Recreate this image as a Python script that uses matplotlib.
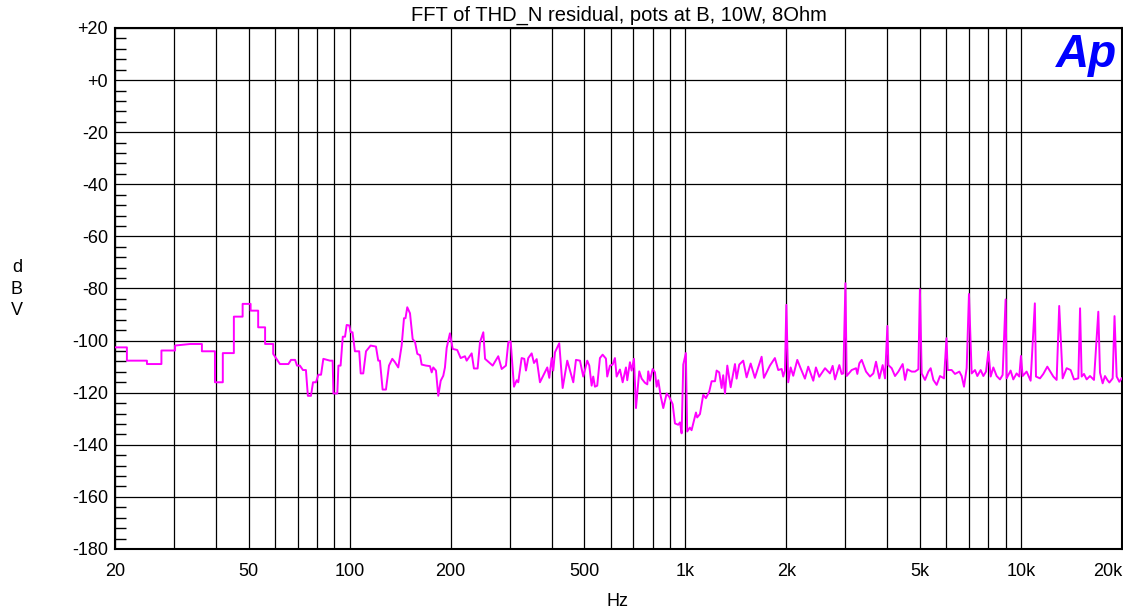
#!/usr/bin/env python3
"""FFT del residuo THD+N (Audio Precision), trazado en escala log."""

import matplotlib
matplotlib.use("Agg")
import matplotlib.pyplot as plt
from matplotlib.ticker import FixedLocator, FixedFormatter, LogLocator, MultipleLocator, NullFormatter

TITLE = "FFT of THD_N residual, pots at B, 10W, 8Ohm"

# frecuencia (Hz) y nivel (dBV)
freq_hz = [
    20, 21.7, 21.7, 24.9, 24.9, 27.5, 27.5, 30.2, 30.2, 33.5, 36.3, 36.3, 39.7, 39.7,
    41.9, 41.9, 45.2, 45.2, 48.0, 48.0, 50.7, 50.7, 53.4, 53.4, 56.0, 56.0, 59.2, 59.2,
    62.0, 65.7, 66.9, 68.8, 69.7, 71.1, 72.6, 74.1, 75.1, 76.7, 77.8, 79.4, 80.7, 82.2,
    83.5, 87.4, 89.0, 89.5, 91.9, 92.6, 94.0, 95.4, 96.9, 98.0, 99.8, 100.7, 102.0,
    103.7, 106.8, 107.9, 109.8, 111.9, 115.5, 119.8, 121.7, 123.1, 125.4, 128.3, 131.0,
    134.0, 136.5, 139.6, 142.9, 145.2, 146.7, 148.5, 151.3, 154.1, 156.6, 159.1, 162.1,
    163.9, 168.9, 173.5, 175.6, 177.5, 180.8, 183.7, 186.8, 190.1, 192.3, 194.6, 199.0,
    202.8, 209.2, 214.2, 220.6, 223.2, 231.0, 234.6, 240.6, 244.6, 250.2, 253.2, 266.8,
    277.2, 283.8, 292.2, 297.0, 301.8, 308.8, 314.6, 318.0, 325.4, 331.4, 335.2, 340.6,
    348.6, 354.2, 360.8, 369.0, 388.0, 393.4, 400.0, 404.2, 409.0, 421.2, 431.2, 445.0,
    463.8, 472.4, 485.6, 496.6, 510.4, 517.6, 526.0, 531.8, 538.0, 546.6, 556.8, 567.2,
    580.2, 585.4, 596.4, 607.6, 617.2, 624.4, 638.8, 650.8, 665.6, 671.6, 684.0, 692.0,
    703.2, 713.0, 729.2, 741.4, 758.4, 770.6, 775.6, 784.8, 799.4, 812.2, 821.6, 830.8,
    844.6, 859.8, 880.0, 896.0, 917.0, 931.6, 952.8, 964.2, 975.2, 986.2, 1004, 1013,
    1032, 1044, 1076, 1085, 1106, 1131, 1152, 1179, 1198, 1226, 1240, 1262, 1283, 1297,
    1313, 1334, 1365, 1406, 1422, 1448, 1488, 1523, 1566, 1612, 1688, 1715, 1787, 1849,
    1892, 1937, 1958, 1981, 2000, 2026, 2060, 2097, 2156, 2196, 2272, 2324, 2406, 2450,
    2506, 2608, 2698, 2748, 2793, 2877, 2923, 2957, 3000, 3025, 3131, 3226, 3255, 3300,
    3354, 3455, 3551, 3633, 3700, 3786, 3873, 3936, 4000, 4027, 4120, 4215, 4313, 4443,
    4515, 4587, 4726, 4835, 4947, 5000, 5061, 5178, 5298, 5383, 5483, 5609, 5739, 5899,
    6000, 6049, 6218, 6361, 6553, 6658, 6766, 6891, 7000, 7131, 7296, 7414, 7585, 7726,
    7868, 8000, 8124, 8274, 8465, 8661, 8818, 9000, 9064, 9316, 9488, 9707, 9886, 10000,
    10115, 10396, 10686, 11000, 11086, 11395, 11658, 11983, 12486, 12774, 13000, 13312,
    13682, 14063, 14388, 14822, 15000, 15165, 15410, 15694, 16057, 16504, 17000, 17197,
    17515, 17797, 18085, 18335, 18759, 19000, 19281, 19636, 19953,
]
level_dbv = [
    -102.6, -102.6, -107.7, -107.7, -109.0, -109.0, -103.8, -103.8, -101.9, -101.3,
    -101.3, -104.1, -104.1, -116.0, -116.0, -104.8, -104.8, -90.8, -90.8, -85.9, -85.9,
    -88.5, -88.5, -94.9, -94.9, -101.3, -101.3, -105.1, -109.0, -109.0, -107.4, -107.4,
    -109.6, -109.6, -111.3, -111.3, -121.2, -121.2, -116.0, -116.0, -113.1, -113.1,
    -107.0, -107.7, -107.7, -120.3, -120.3, -109.6, -109.6, -98.5, -98.5, -94.0, -94.2,
    -96.8, -96.8, -104.1, -104.1, -112.6, -112.6, -104.1, -101.9, -102.3, -107.7, -107.7,
    -118.8, -118.8, -109.6, -107.0, -108.3, -110.3, -101.9, -91.4, -91.4, -87.2, -89.5,
    -99.4, -100.5, -105.1, -105.6, -109.2, -109.6, -109.8, -112.2, -110.3, -111.5, -121.2,
    -115.4, -113.5, -110.3, -102.8, -97.2, -103.2, -103.6, -106.7, -106.0, -107.7, -104.9,
    -110.7, -110.7, -100.6, -96.8, -107.0, -109.6, -106.0, -110.9, -109.6, -100.6, -100.3,
    -117.7, -115.2, -116.0, -106.7, -107.0, -111.5, -106.7, -104.9, -108.6, -107.1, -116.0,
    -110.3, -114.3, -106.7, -111.5, -104.5, -101.0, -118.2, -107.7, -116.0, -107.4, -107.7,
    -113.8, -107.7, -109.6, -117.3, -113.8, -117.7, -117.3, -106.7, -105.4, -106.9, -113.8,
    -109.6, -109.2, -106.7, -113.8, -111.1, -116.0, -110.3, -115.2, -108.3, -111.5, -107.0,
    -125.9, -111.8, -114.6, -116.2, -116.8, -111.8, -115.4, -110.9, -112.2, -117.7, -115.2,
    -121.2, -125.9, -120.3, -121.6, -124.4, -131.8, -132.3, -131.4, -135.6, -109.2, -104.8,
    -134.9, -133.4, -134.4, -127.6, -129.5, -128.2, -120.8, -122.1, -119.5, -115.6, -115.6,
    -111.5, -112.2, -118.2, -113.3, -120.3, -109.6, -117.9, -109.0, -114.6, -109.2, -107.7,
    -114.1, -108.8, -114.3, -106.2, -114.3, -109.6, -106.7, -111.3, -110.9, -113.8, -111.5,
    -86.3, -116.0, -110.3, -113.5, -107.4, -110.0, -114.6, -110.0, -115.4, -110.3, -113.9,
    -110.6, -112.6, -109.7, -114.9, -109.4, -112.8, -112.6, -78.0, -113.6, -111.3, -110.6,
    -112.8, -108.7, -107.4, -111.9, -113.8, -112.6, -108.1, -114.5, -109.4, -114.5, -94.4,
    -109.4, -110.6, -113.6, -111.9, -109.0, -115.1, -111.0, -111.9, -111.9, -111.0, -80.3,
    -112.6, -115.1, -111.9, -110.6, -115.1, -117.0, -113.6, -114.5, -99.1, -111.3, -111.3,
    -112.8, -111.9, -113.6, -117.7, -110.6, -82.1, -112.6, -111.3, -113.6, -111.3, -113.6,
    -111.9, -104.2, -113.8, -110.3, -113.6, -114.9, -113.2, -84.2, -114.5, -111.5, -114.9,
    -112.6, -113.8, -105.9, -113.6, -111.9, -115.4, -85.7, -113.8, -114.5, -112.8, -110.0,
    -113.8, -115.1, -86.7, -114.5, -110.6, -111.3, -114.9, -114.5, -87.6, -113.8, -112.8,
    -114.9, -113.6, -115.1, -88.9, -112.3, -116.4, -113.6, -115.1, -116.1, -114.5, -90.6,
    -113.8, -115.8, -114.5,
]

x_ticks = [20, 50, 100, 200, 500, 1000, 2000, 5000, 10000, 20000]
x_tick_labels = ["20", "50", "100", "200", "500", "1k", "2k", "5k", "10k", "20k"]
y_ticks = list(range(-180, 21, 20))
y_tick_labels = ["+%d" % v if v >= 0 else "%d" % v for v in y_ticks]


def main():
    plt.rcParams["font.family"] = ["Liberation Sans", "DejaVu Sans"]

    fig = plt.figure(figsize=(11.23, 6.13), dpi=100)
    ax = fig.add_axes([115 / 1123, 64 / 613, 1007 / 1123, 521 / 613])

    ax.plot(freq_hz, level_dbv, color="#ff00ff", lw=1.4, zorder=3)

    ax.set_xscale("log")
    ax.set_xlim(20, 20000)
    ax.set_ylim(-180, 20)

    ax.xaxis.set_major_locator(FixedLocator(x_ticks))
    ax.xaxis.set_major_formatter(FixedFormatter(x_tick_labels))
    ax.xaxis.set_minor_locator(LogLocator(base=10, subs=range(2, 10), numticks=20))
    ax.xaxis.set_minor_formatter(NullFormatter())
    ax.yaxis.set_major_locator(FixedLocator(y_ticks))
    ax.yaxis.set_major_formatter(FixedFormatter(y_tick_labels))
    ax.yaxis.set_minor_locator(MultipleLocator(4))

    ax.grid(True, which="both", axis="x", color="black", lw=0.9)
    ax.grid(True, which="major", axis="y", color="black", lw=0.9)
    ax.tick_params(axis="both", which="major", length=0, labelsize=13)
    ax.tick_params(axis="x", which="major", pad=10)
    ax.tick_params(axis="y", which="major", pad=5)
    ax.tick_params(axis="x", which="minor", length=0)
    ax.tick_params(axis="y", which="minor", direction="in", length=8, width=1, color="black")
    for spine in ax.spines.values():
        spine.set_linewidth(1.5)

    # la etiqueta 20k va alineada a la derecha para que no se corte
    last = ax.get_xticklabels()[-1]
    last.set_horizontalalignment("right")

    # pad mayor para que el guion bajo de THD_N no quede tapado por el borde
    ax.set_title(TITLE, fontsize=14.5, pad=5)
    fig.text(617 / 1123, 1 - 602 / 613, "Hz", ha="center", va="center", fontsize=13)
    fig.text(17 / 1123, 1 - 289 / 613, "d\nB\nV", ha="center", va="center",
             fontsize=13, linespacing=1.35)
    ax.text(0.995, 0.99, "Ap", transform=ax.transAxes, ha="right", va="top",
            color="#0000ff", fontsize=33, fontweight="bold", fontstyle="italic")

    fig.savefig("out.png", dpi=100)


if __name__ == "__main__":
    main()
